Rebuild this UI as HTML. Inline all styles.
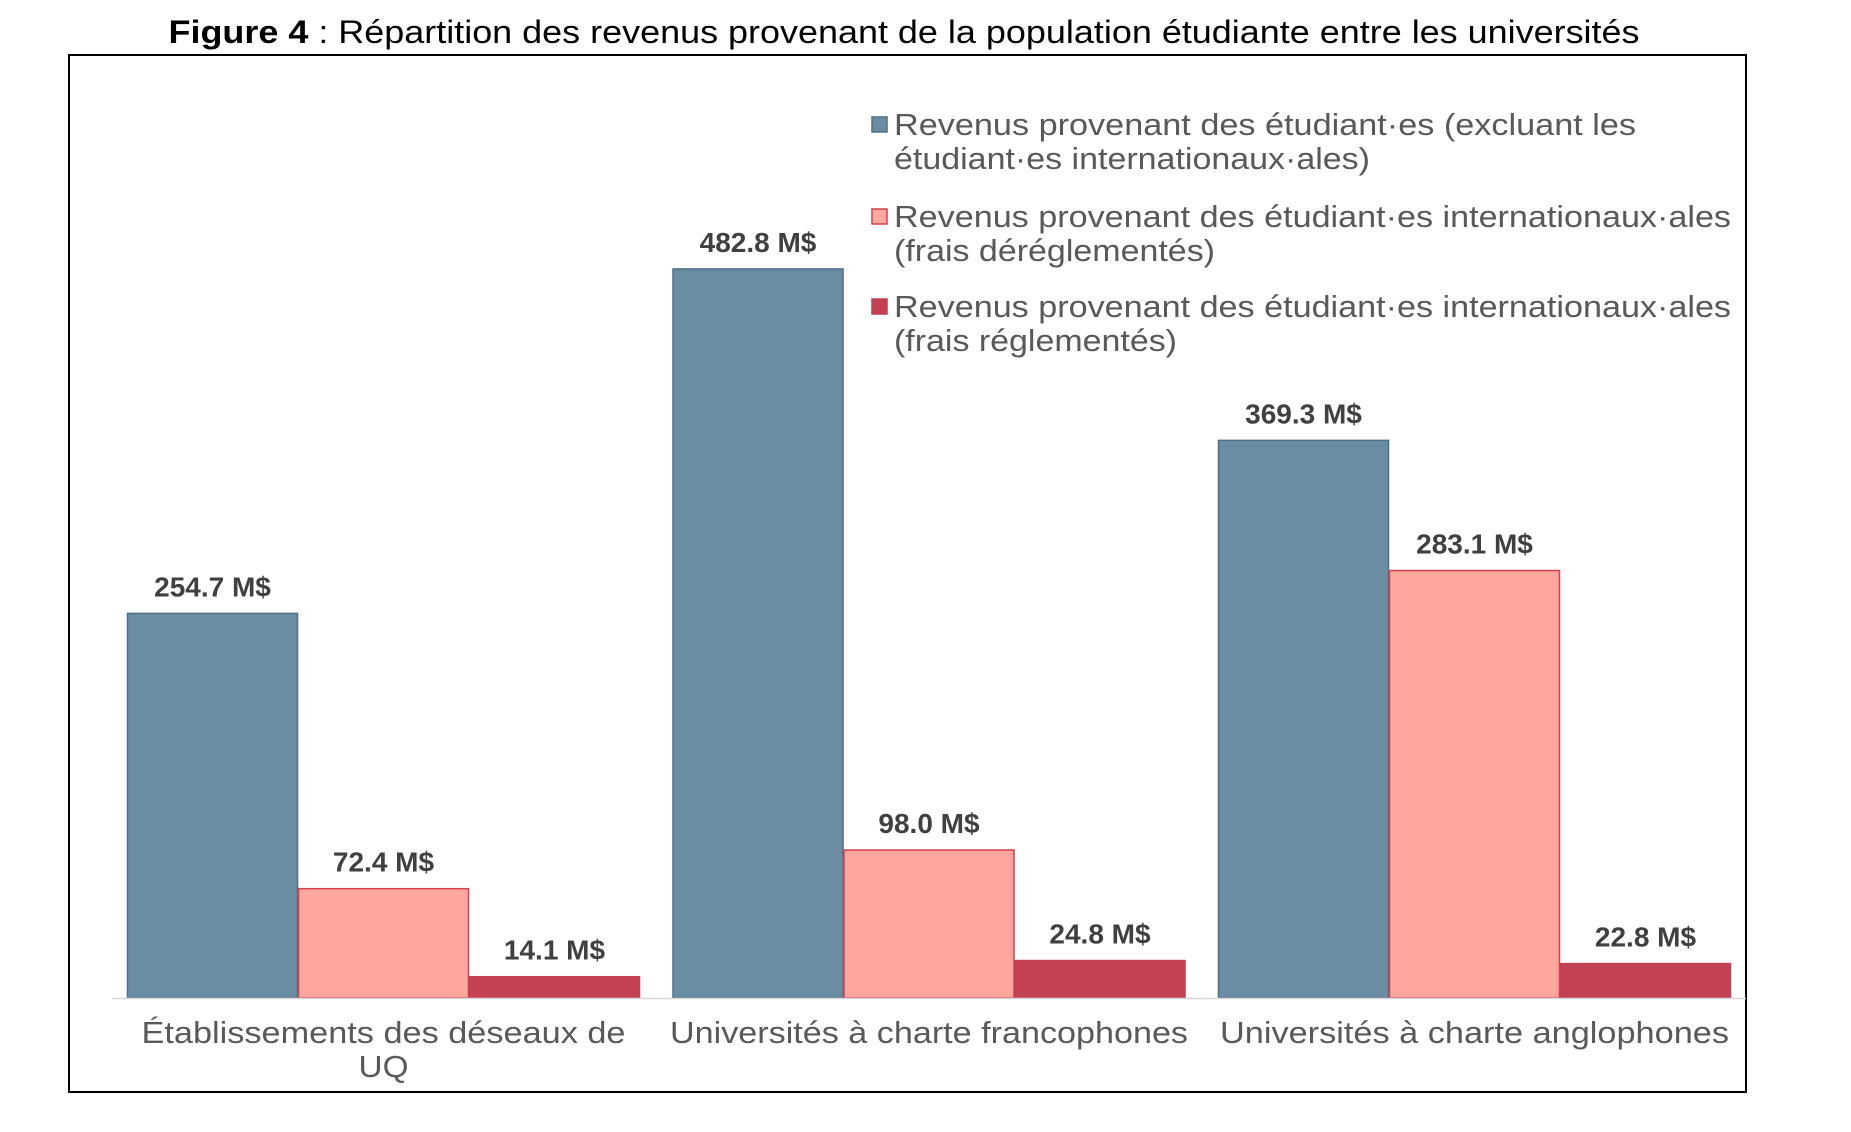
<!DOCTYPE html>
<html><head><meta charset="utf-8"><style>
body{margin:0;background:#fff}
svg{display:block;font-family:"Liberation Sans",Arial,sans-serif}
</style></head><body>
<svg id="chart" width="1851" height="1132" viewBox="0 0 1851 1132">
<text x="904" y="43" font-size="32" text-anchor="middle" fill="#000" textLength="1471" lengthAdjust="spacingAndGlyphs"><tspan font-weight="bold">Figure 4</tspan> : Répartition des revenus provenant de la population étudiante entre les universités</text>
<rect x="69" y="55" width="1677" height="1037" fill="none" stroke="#000" stroke-width="2"/>
<g id="bars"></g>
<line x1="112" y1="998.5" x2="1746" y2="998.5" stroke="#d9d9d9" stroke-width="1.5"/>
<g id="cats"></g>
<g id="legend"></g>
</svg>
<script>
const categories = [["Établissements des déseaux de","UQ"],["Universités à charte francophones"],["Universités à charte anglophones"]];
const seriesNames = [["Revenus provenant des étudiant·es (excluant les","étudiant·es internationaux·ales)"],["Revenus provenant des étudiant·es internationaux·ales","(frais déréglementés)"],["Revenus provenant des étudiant·es internationaux·ales","(frais réglementés)"]];
const domestic = [254.7, 482.8, 369.3];
const deregulated = [72.4, 98.0, 283.1];
const regulated = [14.1, 24.8, 22.8];
const valueLabels = [["254.7 M$","482.8 M$","369.3 M$"],["72.4 M$","98.0 M$","283.1 M$"],["14.1 M$","24.8 M$","22.8 M$"]];

const catWidths=[[484,50],[518],[509]];
const legWidths=[[742,476],[837,321],[837,283]];
const NS="http://www.w3.org/2000/svg";
const series=[domestic,deregulated,regulated];
const fills=["#6A8DA4","#FFA69E","#C24152"];
const strokes=["#4F6F85","#D2404F","#C24152"];
const baseY=998, pxPer=1.51, groupX0=127, groupStep=545.5, barW=171;
const y=v=>baseY-v*pxPer;
const x=(g,s)=>groupX0+g*groupStep+s*barW;
function mk(tag,attrs,parent){const e=document.createElementNS(NS,tag);for(const k in attrs)e.setAttribute(k,attrs[k]);parent.appendChild(e);return e;}
const bars=document.getElementById('bars');
series.forEach((arr,s)=>{arr.forEach((v,g)=>{
  const r=mk('rect',{x:x(g,s)+0.5,y:y(v),width:barW-1,height:baseY-y(v),fill:fills[s],stroke:strokes[s],'stroke-width':1.5},bars);
  
  
  const t=mk('text',{x:x(g,s)+barW/2,y:y(v)-17,'font-size':28,'font-weight':'bold','text-anchor':'middle',fill:'#404040'},bars);
  t.textContent=valueLabels[s][g];
  
  
});});
const cats=document.getElementById('cats');
categories.forEach((lines,g)=>{lines.forEach((ln,i)=>{
  const t=mk('text',{x:groupX0+g*groupStep+barW*1.5,y:1043+i*34,'font-size':31,'text-anchor':'middle',fill:'#595959',textLength:catWidths[g][i],lengthAdjust:'spacingAndGlyphs'},cats);
  t.textContent=ln;
  
  
});});
const leg=document.getElementById('legend');
const legY=[124,216,306];
seriesNames.forEach((lines,s)=>{
  const r=mk('rect',{x:872,y:legY[s]-7,width:15,height:15,fill:fills[s],stroke:strokes[s],'stroke-width':1.5},leg);
  
  
  lines.forEach((ln,i)=>{
    const t=mk('text',{x:894,y:legY[s]+11+i*34,'font-size':31,fill:'#595959',textLength:legWidths[s][i],lengthAdjust:'spacingAndGlyphs'},leg);
    t.textContent=ln;
    
    
  });
});
</script>
</body></html>
